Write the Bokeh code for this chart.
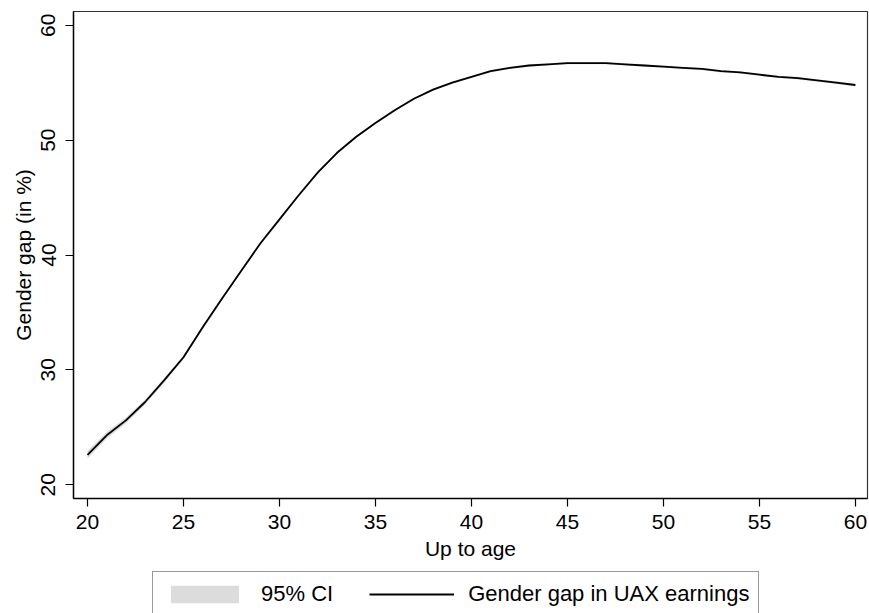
from bokeh.plotting import figure
from bokeh.models import Range1d, FixedTicker, Legend, LegendItem, ColumnDataSource
from bokeh.layouts import column
from bokeh.embed import file_html
from bokeh.resources import INLINE

ages = list(range(20, 61))
gap = [22.6, 24.3, 25.6, 27.2, 29.1, 31.1, 33.7, 36.2, 38.6, 41.0,
       43.1, 45.2, 47.2, 48.9, 50.3, 51.5, 52.6, 53.6, 54.4, 55.0,
       55.5, 56.0, 56.3, 56.5, 56.6, 56.7, 56.7, 56.7, 56.6, 56.5,
       56.4, 56.3, 56.2, 56.0, 55.9, 55.7, 55.5, 55.4, 55.2, 55.0, 54.8]
ci_half = [0.35, 0.30, 0.25, 0.22, 0.20, 0.18, 0.16, 0.15, 0.14, 0.13,
           0.12, 0.12, 0.11, 0.11, 0.10, 0.10, 0.10, 0.10, 0.10, 0.10,
           0.10, 0.10, 0.10, 0.10, 0.10, 0.10, 0.10, 0.10, 0.10, 0.10,
           0.10, 0.10, 0.10, 0.10, 0.10, 0.10, 0.10, 0.11, 0.11, 0.12, 0.12]
x_ticks = [20, 25, 30, 35, 40, 45, 50, 55, 60]
y_ticks = [20, 30, 40, 50, 60]
legend_labels = ["95% CI", "Gender gap in UAX earnings"]

CI_COLOR = "#dcdcdc"
FONT = "Liberation Sans"

src = ColumnDataSource(dict(
    age=ages, gap=gap,
    lo=[g - h for g, h in zip(gap, ci_half)],
    hi=[g + h for g, h in zip(gap, ci_half)],
))

p = figure(width=869, height=568, output_backend="svg", toolbar_location=None,
           x_range=Range1d(19.27, 60.63), y_range=Range1d(18.8, 61.2),
           min_border_left=73, min_border_top=11, min_border_right=2,
           min_border_bottom=70)

band = p.varea(x="age", y1="lo", y2="hi", source=src, fill_color=CI_COLOR, fill_alpha=1.0)
line = p.line(x="age", y="gap", source=src, line_color="black", line_width=1.8)

p.xgrid.visible = False
p.ygrid.visible = False
p.background_fill_color = "white"
p.border_fill_color = "white"
p.outline_line_color = "#333333"
p.outline_line_width = 1.2

for ax in (p.xaxis[0], p.yaxis[0]):
    ax.axis_line_color = "black"
    ax.axis_line_width = 1.4
    ax.major_tick_line_color = "black"
    ax.major_tick_line_width = 1.2
    ax.major_tick_out = 8
    ax.major_tick_in = 0
    ax.minor_tick_line_color = None
    ax.major_label_text_font = FONT
    ax.major_label_text_font_size = "21px"
    ax.major_label_text_color = "black"
    ax.axis_label_text_font = FONT
    ax.axis_label_text_font_size = "21px"
    ax.axis_label_text_font_style = "normal"
    ax.axis_label_text_color = "black"

p.xaxis.ticker = FixedTicker(ticks=x_ticks)
p.yaxis.ticker = FixedTicker(ticks=y_ticks)
p.xaxis.axis_label = "Up to age"
p.yaxis.axis_label = "Gender gap (in %)"
p.yaxis.major_label_orientation = "parallel"
p.xaxis.major_label_standoff = 8
p.xaxis.axis_label_standoff = 5
p.yaxis.major_label_standoff = 10
p.yaxis.axis_label_standoff = 4

# legend strip below the plot (its glyph renderers are out of view)
p2 = figure(width=869, height=45, output_backend="svg", toolbar_location=None,
            x_range=Range1d(0, 1), y_range=Range1d(0, 1),
            x_axis_location=None, y_axis_location=None,
            min_border_left=0, min_border_right=0,
            min_border_top=0, min_border_bottom=0)
p2.xgrid.visible = False
p2.ygrid.visible = False
p2.outline_line_color = None
lg_band = p2.varea(x="age", y1="lo", y2="hi", source=src, fill_color=CI_COLOR, fill_alpha=1.0)
lg_line = p2.line(x="age", y="gap", source=src, line_color="black", line_width=1.8)

legend = Legend(items=[LegendItem(label=legend_labels[0], renderers=[lg_band]),
                       LegendItem(label=legend_labels[1], renderers=[lg_line])],
                orientation="horizontal", location=(79, -4),
                glyph_width=85, glyph_height=22, label_standoff=14, spacing=36,
                padding=9, margin=0,
                label_text_font=FONT, label_text_font_size="22px",
                label_text_color="black",
                border_line_color="#333333", border_line_width=1.2,
                background_fill_color="white", background_fill_alpha=1.0)
p2.add_layout(legend)

layout = column(p, p2, spacing=0)
open("out.html", "w").write(file_html(layout, INLINE))
